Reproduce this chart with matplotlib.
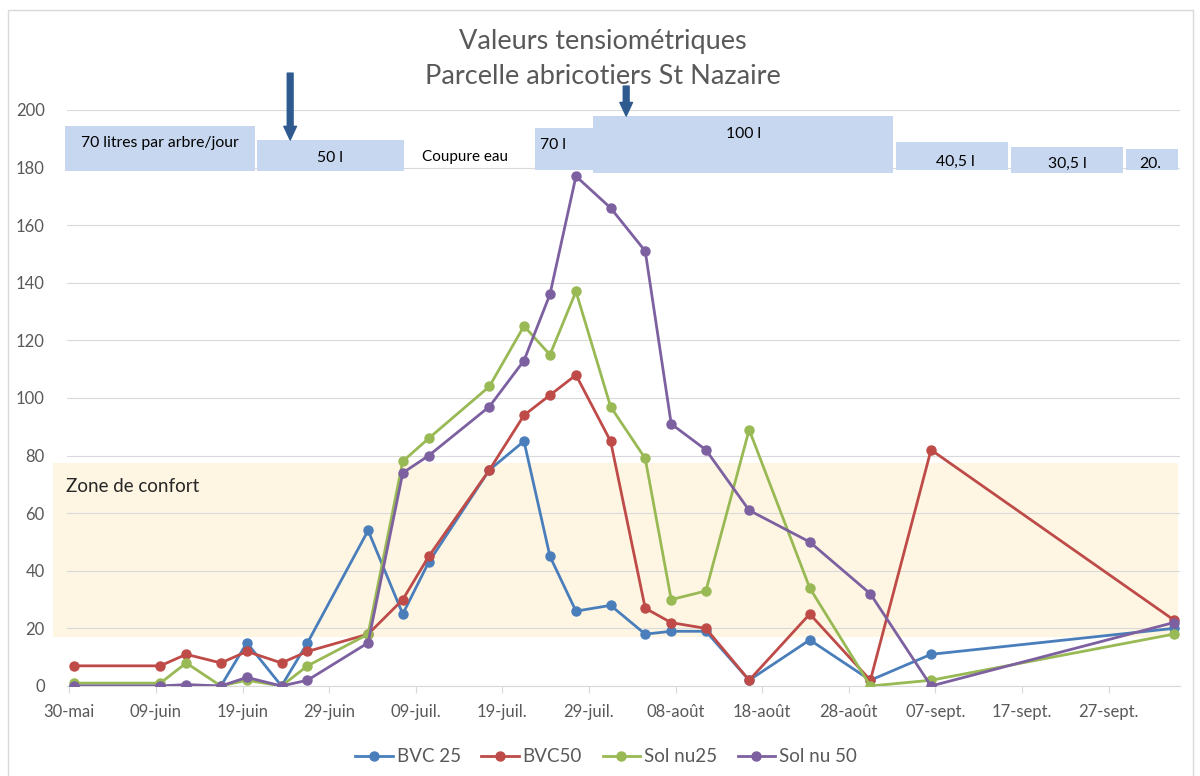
#!/usr/bin/env python3

import matplotlib.pyplot as plt
import pandas as pd
from matplotlib.lines import Line2D
from matplotlib.patches import Rectangle

plt.rcParams["font.family"] = ["Lato", "DejaVu Sans"]

START = pd.Timestamp("2015-05-30")

# readings (taken around midday)
reading_dates = [
    "2015-05-30", "2015-06-09", "2015-06-12", "2015-06-16", "2015-06-19",
    "2015-06-23", "2015-06-26", "2015-07-03", "2015-07-07", "2015-07-10",
    "2015-07-17", "2015-07-21", "2015-07-24", "2015-07-27", "2015-07-31",
    "2015-08-04", "2015-08-07", "2015-08-11", "2015-08-16", "2015-08-23",
    "2015-08-30", "2015-09-06", "2015-10-04",
]
bvc25 = [0, 0, 0, 0, 15, 0, 15, 54, 25, 43, 75, 85, 45, 26, 28, 18, 19, 19, 2, 16, 2, 11, 20]
bvc50 = [7, 7, 11, 8, 12, 8, 12, 18, 30, 45, 75, 94, 101, 108, 85, 27, 22, 20, 2, 25, 2, 82, 23]
solnu25 = [1, 1, 8, 0, 2, 0, 7, 18, 78, 86, 104, 125, 115, 137, 97, 79, 30, 33, 89, 34, 0, 2, 18]
solnu50 = [0, 0, 0.5, 0, 3, 0, 2, 15, 74, 80, 97, 113, 136, 177, 166, 151, 91, 82, 61, 50, 32, 0, 22]

series_names = ["BVC 25", "BVC50", "Sol nu25", "Sol nu 50"]
series_colors = ["#4A7EBB", "#BE4B48", "#98B954", "#7D60A0"]

tick_labels = ["30-mai", "09-juin", "19-juin", "29-juin", "09-juil.", "19-juil.", "29-juil.",
               "08-août", "18-août", "28-août", "07-sept.", "17-sept.", "27-sept."]

# irrigation periods: (start day, end day, bottom, top, label)
irrigation = [
    (-0.5, 21.4, 178.8, 194.4, "70 litres par arbre/jour"),
    (21.7, 38.6, 178.8, 189.6, "50 l"),
    (53.8, 60.5, 179.2, 193.75, "70 l"),
    (60.5, 95.1, 178.1, 197.9, "100 l"),
    (95.4, 108.4, 179.2, 188.9, "40,5 l"),
    (108.7, 121.7, 178.1, 187.2, "30,5 l"),
    (122.0, 128.0, 179.2, 186.5, "20."),
]
label_pos = [(10.5, 188.5, "center"), (30.1, 183.3, "center"), (54.3, 187.8, "left"),
             (77.8, 191.7, "center"), (102.3, 181.9, "center"), (115.2, 181.25, "center"),
             (123.6, 181.25, "left")]
arrows = [(25.5, 212.8, 189.6), (64.3, 208.3, 197.9)]
comfort_low, comfort_high = 17, 77.5


def day(offset):
    return START + pd.Timedelta(days=offset)


fig = plt.figure(figsize=(12, 7.76), dpi=100)
ax = fig.add_axes([67 / 1200, 1 - 686 / 776, 1113 / 1200, 576 / 776])

x = pd.to_datetime(reading_dates) + pd.Timedelta(hours=12)
for vals, name, color, z in zip([bvc25, bvc50, solnu25, solnu50], series_names, series_colors, range(3, 7)):
    ax.plot(x, vals, color=color, linewidth=2.0, marker="o", markersize=6.5, label=name, zorder=z)

ax.set_xlim(day(-0.27), day(128.25))
ax.set_ylim(0, 200)
ax.set_yticks(range(0, 201, 20))
ax.set_xticks([day(10 * i) for i in range(len(tick_labels))])
ax.set_xticklabels(tick_labels)
ax.tick_params(axis="x", length=5, color="#D9D9D9", colors="#595959", labelsize=12, pad=8)
ax.tick_params(axis="y", length=0, colors="#595959", labelsize=12, pad=16)
ax.grid(axis="y", color="#D9D9D9", linewidth=0.8)
ax.set_axisbelow(True)
for side in ["left", "right", "top"]:
    ax.spines[side].set_visible(False)
ax.spines["bottom"].set_color("#D9D9D9")

# comfort zone
ax.add_patch(Rectangle((-0.0126, comfort_low), 1.0106, comfort_high - comfort_low,
                       transform=ax.get_yaxis_transform(), facecolor="#FEF6E3",
                       edgecolor="none", zorder=0, clip_on=False))
ax.text(-0.001, 69.4, "Zone de confort", transform=ax.get_yaxis_transform(),
        fontsize=13.5, color="#262626", va="center", ha="left", zorder=2)

# irrigation boxes
for (d0, d1, lo, hi, _), (lx, ly, ha) in zip(irrigation, label_pos):
    ax.add_patch(Rectangle((day(d0), lo), pd.Timedelta(days=d1 - d0), hi - lo,
                           facecolor="#C6D7EF", edgecolor="none", zorder=2, clip_on=False))
for (_, _, _, _, label), (lx, ly, ha) in zip(irrigation, label_pos):
    ax.text(day(lx), ly, label, fontsize=11.3, color="black", ha=ha, va="center", zorder=3)
ax.text(day(45.7), 183.7, "Coupure eau", fontsize=11, color="black", ha="center", va="center")

for ad, y0, y1 in arrows:
    ax.annotate("", xy=(day(ad), y1), xytext=(day(ad), y0), annotation_clip=False,
                arrowprops=dict(arrowstyle="simple,head_length=0.7,head_width=0.65,tail_width=0.3",
                                color="#2F5A8F", shrinkA=0, shrinkB=0, mutation_scale=14))

fig.text(0.502, 1 - 42 / 776, "Valeurs tensiométriques", ha="center", va="center",
         fontsize=19.5, color="#595959")
fig.text(0.502, 1 - 76 / 776, "Parcelle abricotiers St Nazaire", ha="center", va="center",
         fontsize=19.5, color="#595959")

handles = [Line2D([], [], color=c, linewidth=2.0, marker="o", markersize=6.5) for c in series_colors]
fig.legend(handles, series_names, loc="center", bbox_to_anchor=(0.505, 1 - 757 / 776), ncol=4,
           frameon=False, fontsize=13.5, handlelength=2.0, handletextpad=0.2, columnspacing=1.1,
           labelcolor="#595959")

fig.patches.append(Rectangle((8 / 1200, -0.01), 1185 / 1200, 1 - 10 / 776 + 0.01,
                             transform=fig.transFigure, facecolor="none",
                             edgecolor="#D9D9D9", linewidth=1.0))

fig.savefig("out.png", dpi=100)
